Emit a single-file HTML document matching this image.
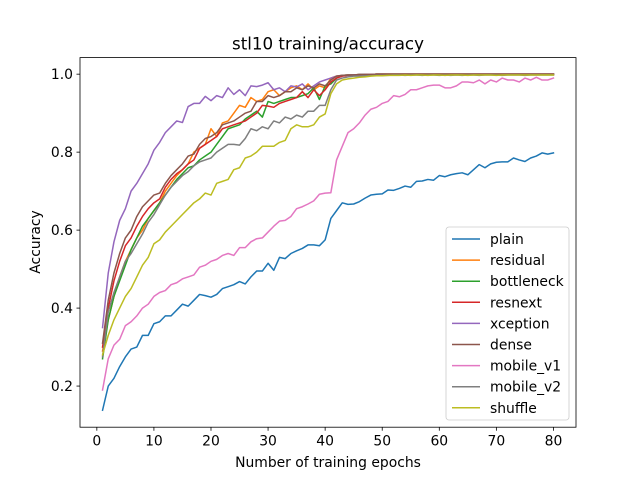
<!DOCTYPE html>
<html><head><meta charset="utf-8"><style>
body{margin:0;background:#fff}
svg{display:block;font-family:"DejaVu Sans","Liberation Sans",sans-serif}
</style></head><body>
<svg id="chart" width="640" height="480" viewBox="0 0 640 480" xmlns="http://www.w3.org/2000/svg">
<rect width="640" height="480" fill="#fff"/>
<text x="328" y="49.5" font-size="16.7" text-anchor="middle">stl10 training/accuracy</text>
<g id="grid"></g>
<g id="series"></g>
<rect x="80" y="57.6" width="496" height="369.6" fill="none" stroke="#000" stroke-width="0.8"/>
<g id="ticks"></g>
<text x="328" y="467" font-size="13.9" text-anchor="middle">Number of training epochs</text>
<text transform="translate(40,242) rotate(-90)" font-size="13.9" text-anchor="middle">Accuracy</text>
<g id="legend"></g>
</svg>
<script>
const xTicks=[0,10,20,30,40,50,60,70,80];
const yTicks=[0.2,0.4,0.6,0.8,1.0];
const yTickLabels=["0.2","0.4","0.6","0.8","1.0"];
const seriesNames=["plain","residual","bottleneck","resnext","xception","dense","mobile_v1","mobile_v2","shuffle"];
const seriesColors=["#1f77b4","#ff7f0e","#2ca02c","#d62728","#9467bd","#8c564b","#e377c2","#7f7f7f","#bcbd22"];
const plain=[0.138,0.20,0.22,0.25,0.275,0.295,0.30,0.33,0.33,0.36,0.365,0.38,0.38,0.395,0.41,0.405,0.42,0.435,0.432,0.428,0.435,0.45,0.455,0.46,0.468,0.462,0.48,0.495,0.495,0.515,0.497,0.53,0.527,0.54,0.547,0.553,0.562,0.562,0.56,0.575,0.63,0.65,0.67,0.666,0.667,0.673,0.682,0.69,0.692,0.693,0.703,0.702,0.707,0.713,0.71,0.725,0.726,0.73,0.728,0.74,0.737,0.742,0.745,0.747,0.742,0.755,0.768,0.76,0.77,0.774,0.775,0.775,0.785,0.78,0.776,0.785,0.79,0.798,0.795,0.798];
const residual=[0.29,0.37,0.43,0.48,0.52,0.55,0.58,0.60,0.63,0.65,0.67,0.70,0.72,0.74,0.755,0.77,0.80,0.81,0.82,0.86,0.84,0.875,0.88,0.90,0.92,0.915,0.94,0.93,0.935,0.955,0.96,0.945,0.955,0.965,0.97,0.96,0.975,0.96,0.97,0.965,0.99,0.995,0.997,0.998,0.998,0.999,0.999,0.999,1,1,1,1,1,1,1,1,1,1,1,1,1,1,1,1,1,1,1,1,1,1,1,1,1,1,1,1,1,1,1,1];
const bottleneck=[0.27,0.37,0.43,0.47,0.51,0.55,0.58,0.61,0.63,0.65,0.67,0.69,0.71,0.73,0.745,0.76,0.765,0.78,0.79,0.80,0.82,0.84,0.86,0.865,0.87,0.885,0.895,0.905,0.89,0.93,0.925,0.93,0.935,0.94,0.94,0.945,0.95,0.965,0.935,0.97,0.975,0.99,0.997,0.998,0.998,0.999,0.999,0.999,1,1,1,1,1,1,1,1,1,1,1,1,1,1,1,1,1,1,1,1,1,1,1,1,1,1,1,1,1,1,1,1];
const resnext=[0.30,0.40,0.47,0.52,0.56,0.58,0.61,0.635,0.655,0.67,0.68,0.71,0.73,0.745,0.755,0.77,0.78,0.81,0.82,0.83,0.84,0.86,0.865,0.87,0.875,0.88,0.89,0.90,0.92,0.918,0.915,0.925,0.93,0.935,0.94,0.955,0.94,0.96,0.945,0.96,0.98,0.99,0.995,0.997,0.998,0.998,0.999,0.999,1,1,1,1,1,1,1,1,1,1,1,1,1,1,1,1,1,1,1,1,1,1,1,1,1,1,1,1,1,1,1,1];
const xception=[0.35,0.49,0.57,0.625,0.655,0.70,0.72,0.745,0.77,0.805,0.825,0.85,0.865,0.88,0.876,0.917,0.925,0.925,0.943,0.932,0.945,0.94,0.965,0.948,0.96,0.945,0.97,0.968,0.972,0.978,0.96,0.965,0.955,0.97,0.967,0.975,0.96,0.97,0.98,0.985,0.99,0.995,0.997,0.998,0.998,0.999,0.999,0.999,1,1,1,1,1,1,1,1,1,1,1,1,1,1,1,1,1,1,1,1,1,1,1,1,1,1,1,1,1,1,1,1];
const dense=[0.31,0.42,0.49,0.54,0.58,0.60,0.635,0.66,0.675,0.69,0.695,0.72,0.74,0.755,0.77,0.79,0.795,0.82,0.835,0.84,0.85,0.87,0.875,0.88,0.89,0.90,0.905,0.93,0.93,0.945,0.94,0.945,0.955,0.955,0.965,0.96,0.97,0.965,0.975,0.97,0.985,0.995,0.997,0.998,0.998,0.999,0.999,0.999,1,1,1,1,1,1,1,1,1,1,1,1,1,1,1,1,1,1,1,1,1,1,1,1,1,1,1,1,1,1,1,1];
const mobile_v1=[0.19,0.27,0.305,0.32,0.355,0.365,0.38,0.40,0.41,0.43,0.44,0.445,0.46,0.465,0.475,0.48,0.485,0.505,0.51,0.52,0.525,0.535,0.54,0.535,0.555,0.555,0.57,0.578,0.58,0.595,0.61,0.623,0.625,0.635,0.655,0.66,0.667,0.675,0.692,0.695,0.696,0.78,0.815,0.85,0.86,0.875,0.895,0.91,0.915,0.925,0.93,0.945,0.942,0.948,0.96,0.96,0.965,0.97,0.972,0.972,0.965,0.965,0.97,0.98,0.98,0.978,0.985,0.975,0.985,0.98,0.99,0.985,0.985,0.98,0.99,0.985,0.992,0.985,0.985,0.99];
const mobile_v2=[0.275,0.39,0.44,0.48,0.52,0.54,0.565,0.59,0.62,0.64,0.665,0.69,0.71,0.725,0.74,0.75,0.765,0.775,0.78,0.785,0.80,0.81,0.82,0.82,0.818,0.835,0.86,0.855,0.865,0.86,0.88,0.875,0.89,0.885,0.895,0.89,0.905,0.905,0.92,0.92,0.96,0.985,0.99,0.993,0.995,0.995,0.996,0.996,0.997,0.997,0.997,0.998,0.998,0.997,0.998,0.998,0.997,0.998,0.998,0.997,0.998,0.997,0.998,0.997,0.998,0.998,0.997,0.998,0.998,0.998,0.997,0.998,0.998,0.998,0.997,0.998,0.998,0.998,0.998,0.998];
const shuffle=[0.28,0.33,0.37,0.40,0.43,0.45,0.48,0.51,0.53,0.565,0.575,0.595,0.61,0.625,0.64,0.655,0.67,0.68,0.695,0.69,0.72,0.725,0.73,0.755,0.76,0.785,0.79,0.80,0.815,0.815,0.815,0.825,0.83,0.86,0.87,0.865,0.865,0.87,0.89,0.898,0.95,0.975,0.985,0.988,0.99,0.992,0.993,0.995,0.996,0.996,0.997,0.997,0.997,0.998,0.997,0.998,0.998,0.997,0.998,0.998,0.997,0.998,0.998,0.998,0.997,0.998,0.998,0.998,0.998,0.997,0.998,0.998,0.998,0.998,0.998,0.998,0.998,0.998,0.998,0.998];
const seriesData=[plain,residual,bottleneck,resnext,xception,dense,mobile_v1,mobile_v2,shuffle];

const NS="http://www.w3.org/2000/svg";
const L=80,R=576,T=57.6,B=427.2;
const xMin=-2.95,xMax=83.95,yMin=0.0945,yMax=1.0425;
const sx=v=>L+(v-xMin)/(xMax-xMin)*(R-L);
const sy=v=>B-(v-yMin)/(yMax-yMin)*(B-T);
function mk(tag,attrs,parent){const e=document.createElementNS(NS,tag);for(const k in attrs)e.setAttribute(k,attrs[k]);parent.appendChild(e);return e;}
const ticks=document.getElementById('ticks');
xTicks.forEach(t=>{
  const x=sx(t);
  const ln=mk('line',{x1:x,x2:x,y1:B,y2:B+3.5,stroke:'#000','stroke-width':0.8},ticks);
  
  
  const tx=mk('text',{x:x,y:B+18.5,'font-size':13.9,'text-anchor':'middle'},ticks);
  tx.textContent=String(t);
  
  
});
yTicks.forEach((t,i)=>{
  const y=sy(t);
  const ln=mk('line',{x1:L-3.5,x2:L,y1:y,y2:y,stroke:'#000','stroke-width':0.8},ticks);
  
  
  const tx=mk('text',{x:L-7,y:y+5,'font-size':13.9,'text-anchor':'end'},ticks);
  tx.textContent=yTickLabels[i];
  
  
});
const sg=document.getElementById('series');
seriesData.forEach((d,i)=>{
  const pts=d.map((v,j)=>sx(j+1).toFixed(2)+','+sy(v).toFixed(2)).join(' ');
  const pl=mk('polyline',{points:pts,fill:'none',stroke:seriesColors[i],'stroke-width':1.5,'stroke-linejoin':'round','stroke-linecap':'square'},sg);
  
  
});
const lg=document.getElementById('legend');
const box=mk('rect',{x:446,y:227,width:123,height:193,rx:3,fill:'#fff','fill-opacity':0.8,stroke:'#ccc','stroke-width':0.8},lg);


seriesNames.forEach((n,i)=>{
  const y=239+i*21.1;
  const g=mk('g',{},lg);
  
  
  mk('line',{x1:452,x2:480,y1:y,y2:y,stroke:seriesColors[i],'stroke-width':1.5},g);
  const tx=mk('text',{x:490,y:y+5,'font-size':13.9},g);
  tx.textContent=n;
});
</script>
</body></html>
